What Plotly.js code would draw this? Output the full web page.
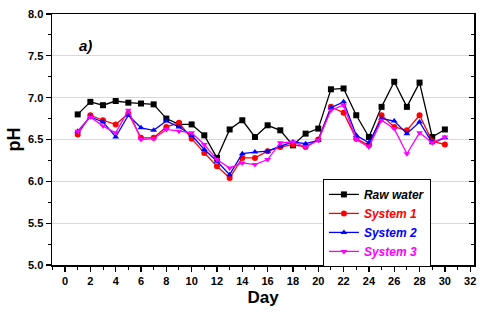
<!DOCTYPE html>
<html>
<head>
<meta charset="utf-8">
<script src="https://cdn.plot.ly/plotly-3.0.1.min.js"></script>
<style>html,body{margin:0;padding:0;background:#fff;}#chart{width:480px;height:313px;}</style>
</head>
<body>
<div id="chart"></div>
<script>
const days = [1,2,3,4,5,6,7,8,9,10,11,12,13,14,15,16,17,18,19,20,21,22,23,24,25,26,27,28,29,30];
const rawWater = [6.80,6.95,6.91,6.96,6.94,6.93,6.92,6.75,6.68,6.68,6.55,6.28,6.62,6.73,6.53,6.67,6.61,6.43,6.57,6.63,7.10,7.11,6.79,6.53,6.89,7.19,6.89,7.18,6.53,6.62];
const system1 = [6.56,6.79,6.73,6.68,6.81,6.52,6.52,6.65,6.70,6.51,6.34,6.18,6.04,6.28,6.28,6.36,6.41,6.44,6.41,6.50,6.89,6.82,6.51,6.43,6.79,6.65,6.61,6.79,6.48,6.44];
const system2 = [6.60,6.77,6.71,6.53,6.79,6.64,6.61,6.72,6.65,6.55,6.38,6.24,6.08,6.33,6.35,6.36,6.42,6.47,6.45,6.49,6.88,6.95,6.55,6.46,6.75,6.72,6.57,6.71,6.46,6.52];
const system3 = [6.60,6.77,6.66,6.58,6.85,6.50,6.51,6.62,6.60,6.58,6.44,6.26,6.16,6.22,6.20,6.26,6.46,6.47,6.41,6.49,6.85,6.91,6.50,6.41,6.73,6.63,6.33,6.58,6.46,6.53];
const seriesNames = ['Raw water','System 1','System 2','System 3'];
const xTicks = [0,2,4,6,8,10,12,14,16,18,20,22,24,26,28,30,32];
const yTicks = [5.0,5.5,6.0,6.5,7.0,7.5,8.0];

const colors = ['#000000','#ff0000','#0000ff','#ff00ff'];
const symbols = ['square','circle','triangle-up','triangle-down'];
const ys = [rawWater, system1, system2, system3];

const traces = ys.map((y,i)=>({
  x: days, y: y, type:'scatter', mode:'lines+markers',
  name: '<span style="color:'+colors[i]+'"><b><i>'+seriesNames[i]+'</i></b></span>',
  line:{color:colors[i], width:1.3},
  marker:{symbol:symbols[i], size:6, color:colors[i]}
}));

const tickFont = {family:'Liberation Sans, Arial, sans-serif', size:11, color:'#000', weight:'bold'};

const layout = {
  width:480, height:313,
  margin:{l:52, r:6, t:14, b:48},
  paper_bgcolor:'#fff', plot_bgcolor:'#fff',
  showlegend:true,
  xaxis:{
    range:[-1.03,32.3], tickmode:'array', tickvals:xTicks, ticktext:xTicks.map(String),
    ticks:'outside', ticklen:5, tickwidth:1.3, tickcolor:'#000',
    minor:{dtick:1, tick0:0, ticks:'outside', ticklen:3, tickwidth:1, tickcolor:'#000', showgrid:false},
    showline:true, linecolor:'#000', linewidth:1.5, mirror:true,
    showgrid:false, zeroline:false, tickfont:tickFont,
    title:{text:'<b>Day</b>', font:{family:'Liberation Sans, Arial, sans-serif', size:17, color:'#000'}, standoff:5}
  },
  yaxis:{
    range:[5.0,8.0], tickmode:'array', tickvals:yTicks, ticktext:yTicks.map(v=>v.toFixed(1)),
    ticks:'outside', ticklen:5, tickwidth:1.3, tickcolor:'#000',
    minor:{dtick:0.25, tick0:5, ticks:'outside', ticklen:3, tickwidth:1, tickcolor:'#000', showgrid:false},
    showline:true, linecolor:'#000', linewidth:1.5, mirror:true,
    showgrid:true, gridcolor:'#d9d9d9', gridwidth:1, zeroline:false, tickfont:tickFont,
    title:{text:'<b>pH</b>', font:{family:'Liberation Sans, Arial, sans-serif', size:18, color:'#000'}, standoff:2}
  },
  yaxis2:{
    range:[5.0,8.0], overlaying:'y', side:'right', tickmode:'array', tickvals:yTicks,
    ticks:'inside', ticklen:5, tickwidth:1.3, tickcolor:'#000', showticklabels:false,
    minor:{dtick:0.25, tick0:5, ticks:'inside', ticklen:3, tickwidth:1, tickcolor:'#000', showgrid:false},
    showgrid:false, zeroline:false, showline:false
  },
  legend:{
    x:0.642, y:0.343, xanchor:'left', yanchor:'top',
    bgcolor:'#fff', bordercolor:'#000', borderwidth:1,
    font:{family:'Liberation Sans, Arial, sans-serif', size:12, color:'#000'},
    tracegroupgap:0, itemwidth:30
  },
  annotations:[{
    xref:'paper', yref:'paper', x:0.06, y:0.875, xanchor:'left', yanchor:'middle',
    text:'<b><i>a)</i></b>', showarrow:false,
    font:{family:'Liberation Sans, Arial, sans-serif', size:15, color:'#000'}
  }]
};

traces.push({x:[days[0]], y:[rawWater[0]], yaxis:'y2', type:'scatter', mode:'markers', marker:{opacity:0}, showlegend:false, hoverinfo:'skip'});

Plotly.newPlot('chart', traces, layout, {displayModeBar:false, staticPlot:true});
</script>
</body>
</html>
